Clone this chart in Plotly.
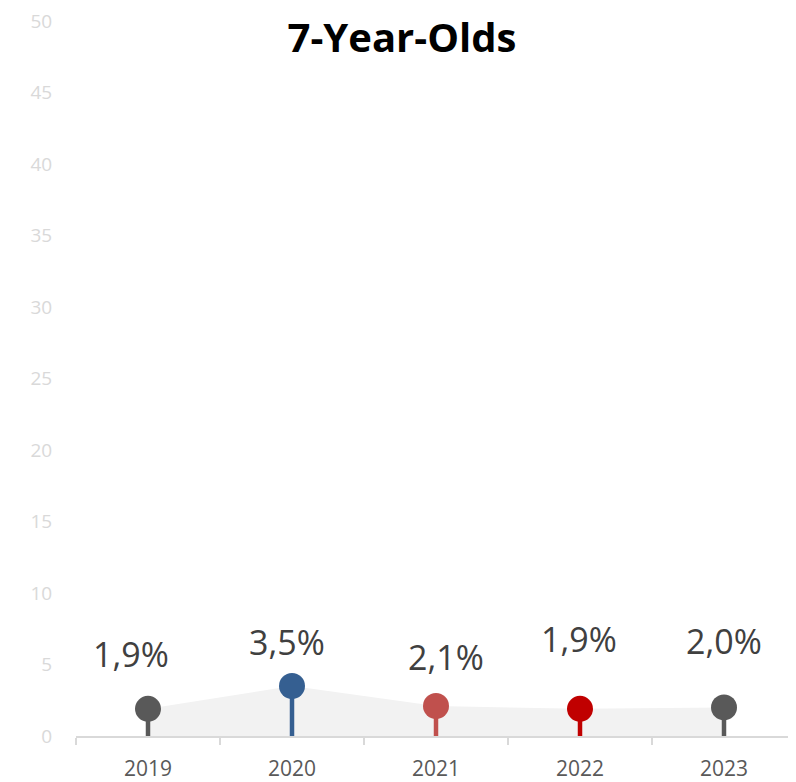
import plotly.graph_objects as go

# donnees
annees = ["2019", "2020", "2021", "2022", "2023"]
valeurs = [1.9, 3.5, 2.1, 1.9, 2.0]
etiquettes = ["1,9%", "3,5%", "2,1%", "1,9%", "2,0%"]
couleurs = ["#595959", "#355f91", "#c0504d", "#c00000", "#595959"]

# decalage des etiquettes (px), placees a la main comme dans excel
decalage_y = [55, 44, 49, 70, 66]
decalage_x = [-17, -5, 10, -1, 0]

police = "Open Sans"

fig = go.Figure()

# zone grise sous la courbe
fig.add_trace(go.Scatter(
    x=annees, y=valeurs, mode="lines", line=dict(width=0),
    fill="tozeroy", fillcolor="#f2f2f2", hoverinfo="none", showlegend=False,
))

# tiges
for a, v, c in zip(annees, valeurs, couleurs):
    fig.add_trace(go.Scatter(
        x=[a, a], y=[0, v], mode="lines", line=dict(color=c, width=4.5),
        hoverinfo="none", showlegend=False,
    ))

# ronds
fig.add_trace(go.Scatter(
    x=annees, y=valeurs, mode="markers",
    marker=dict(size=26, color=couleurs, line=dict(width=0)),
    hoverinfo="none", showlegend=False,
))

# etiquettes (axe categorie -> position = index de la categorie)
for i, (v, t, dx, dy) in enumerate(zip(valeurs, etiquettes, decalage_x, decalage_y)):
    fig.add_annotation(x=i, y=v, xref="x", yref="y", text=t, showarrow=False,
                       xshift=dx, yshift=dy, yanchor="middle",
                       font=dict(family=police, size=34, color="#404040"))

fig.update_xaxes(
    type="category", range=[-0.5, 4.5],
    showline=True, linecolor="#d9d9d9", linewidth=2,
    ticks="outside", tickson="boundaries", ticklen=7, tickcolor="#d9d9d9", tickwidth=1.5,
    tickfont=dict(family=police, size=21, color="#595959"),
    ticklabelstandoff=13,
    showgrid=False, zeroline=False,
)
fig.update_yaxes(
    range=[0, 50], tickmode="linear", tick0=0, dtick=5,
    showgrid=False, zeroline=False, showline=False,
    tickfont=dict(family=police, size=19, color="#d9d9d9"),
    ticks="outside", ticklen=19, tickcolor="rgba(0,0,0,0)",
    ticklabeloverflow="allow",
)

# la page ajoute 8px de marge autour de la figure
fig.update_layout(
    title=dict(text="<b>7-Year-Olds</b>", x=0.5, xanchor="center",
               y=1 - 30 / 774, yanchor="middle", yref="container",
               font=dict(family=police, size=40, color="black")),
    width=788, height=774,
    margin=dict(l=68, r=0, t=6, b=46, pad=0),
    plot_bgcolor="white", paper_bgcolor="white",
)

fig.write_html("out.html")
